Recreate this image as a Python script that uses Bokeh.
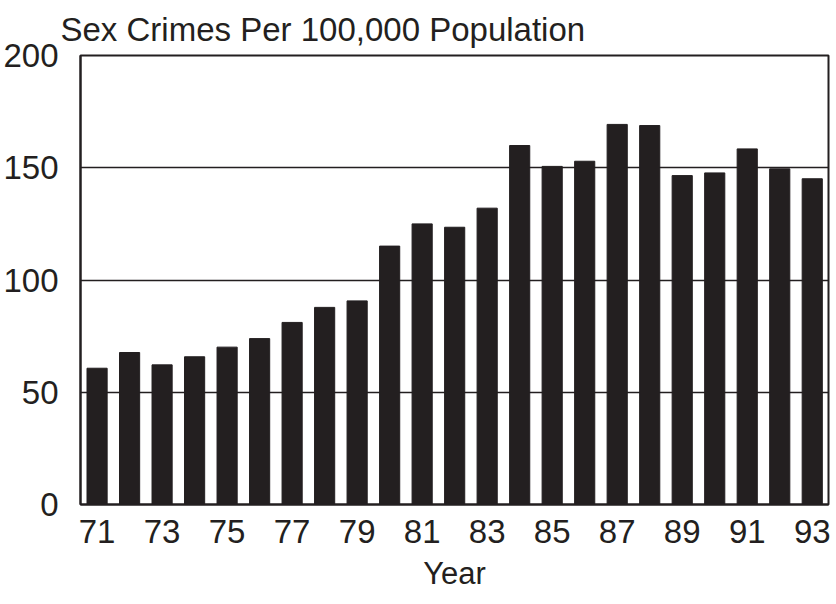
from bokeh.plotting import figure
from bokeh.models import FixedTicker, Range1d, Title
from bokeh.embed import file_html
from bokeh.resources import INLINE

years = [71, 72, 73, 74, 75, 76, 77, 78, 79, 80, 81, 82, 83, 84, 85, 86, 87, 88, 89, 90, 91, 92, 93]
rates = [60.7, 67.7, 62.2, 65.8, 70.1, 73.9, 81.1, 87.8, 90.7, 115.1, 125.0, 123.5, 132.0,
         159.9, 150.6, 152.9, 169.3, 168.8, 146.5, 147.7, 158.4, 149.5, 145.1]
x_ticks = [71, 73, 75, 77, 79, 81, 83, 85, 87, 89, 91, 93]
y_ticks = [0, 50, 100, 150, 200]

INK = "#231f20"
FONT = "Liberation Sans"

p = figure(width=834, height=604, output_backend="svg", toolbar_location=None,
           x_range=Range1d(70.49, 93.5), y_range=Range1d(0, 200),
           min_border_left=80, min_border_right=6, min_border_top=55, min_border_bottom=100,
           title="Sex Crimes Per 100,000 Population")

p.vbar(x=years, top=rates, width=0.62, color=INK)

p.title.text_font = FONT
p.title.text_font_size = "33px"
p.title.text_font_style = "normal"
p.title.text_color = INK
p.title.offset = -20
p.title.standoff = 16

p.outline_line_color = INK
p.outline_line_width = 2

p.xaxis.ticker = FixedTicker(ticks=x_ticks)
p.yaxis.ticker = FixedTicker(ticks=y_ticks)
for ax in (p.xaxis, p.yaxis):
    ax.axis_line_color = INK
    ax.axis_line_width = 2
    ax.major_tick_line_color = None
    ax.minor_tick_line_color = None
    ax.major_label_text_font = FONT
    ax.major_label_text_font_size = "33px"
    ax.major_label_text_color = INK
p.xaxis.major_label_standoff = 9
p.yaxis.major_label_standoff = 16

year_title = Title(text="Year", align="center", offset=24, text_font=FONT,
                   text_font_size="31px", text_font_style="normal", text_color=INK,
                   standoff=17)
p.add_layout(year_title, "below")

p.xgrid.grid_line_color = None
p.ygrid.ticker = FixedTicker(ticks=y_ticks)
p.ygrid.grid_line_color = INK
p.ygrid.grid_line_width = 1.5

open("out.html", "w").write(file_html(p, INLINE))
